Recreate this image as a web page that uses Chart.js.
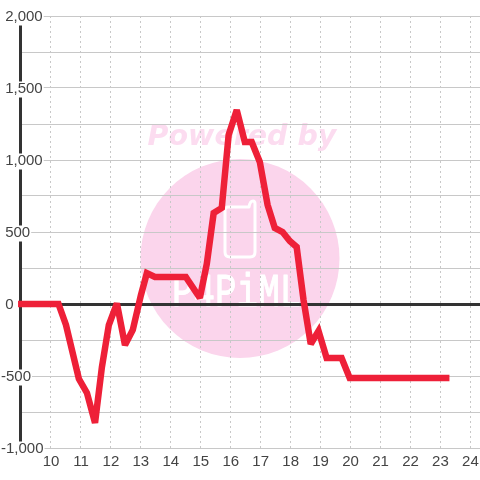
<!DOCTYPE html>
<html>
<head>
<meta charset="utf-8">
<script src="https://cdn.jsdelivr.net/npm/chart.js@4"></script>
<style>
html, body { margin: 0; padding: 0; background: #fff; }
#wrap { width: 480px; height: 480px; }
</style>
</head>
<body>
<div id="wrap"><canvas id="chart" width="480" height="480"></canvas></div>
<script>
const hours = [8.9, 10.25, 10.5, 10.93, 11.2, 11.47, 11.7, 11.93, 12.2, 12.47, 12.73, 13, 13.2, 13.47, 14.5, 14.97, 15.2, 15.43, 15.7, 15.93, 16.2, 16.47, 16.7, 16.97, 17.23, 17.47, 17.73, 17.97, 18.2, 18.43, 18.67, 18.93, 19.2, 19.7, 19.97, 23.3];
const values = [0, 0, -146, -520, -618, -825, -437, -146, 5, -285, -180, 60, 215, 188, 188, 42, 278, 632, 667, 1174, 1347, 1125, 1125, 986, 688, 528, 500, 438, 396, 28, -278, -187, -375, -375, -514, -514];
const xTicks = [10, 11, 12, 13, 14, 15, 16, 17, 18, 19, 20, 21, 22, 23, 24];
const yLabelled = [2000, 1500, 1000, 500, 0, -500, -1000];

const FONT = '"Liberation Sans", Arial, sans-serif';

// faint "Powered by" stamp, sits under the grid
const watermark = {
    id: 'watermark',
    beforeDraw(chart) {
        const ctx = chart.ctx;
        ctx.save();
        ctx.fillStyle = '#fff';
        ctx.fillRect(0, 0, 480, 480);

        ctx.fillStyle = '#fbd5ec';
        ctx.beginPath();
        ctx.arc(240, 258.5, 99.5, 0, Math.PI * 2);
        ctx.fill();

        ctx.fillStyle = '#fcdcf0';
        ctx.font = 'italic bold 28.5px "DejaVu Sans"';
        ctx.textAlign = 'center';
        ctx.textBaseline = 'alphabetic';
        ctx.fillText('Powered by', 242, 145);

        // phone outline
        ctx.strokeStyle = '#fff';
        ctx.lineWidth = 3;
        ctx.lineJoin = 'round';
        ctx.beginPath();
        ctx.moveTo(228, 207);
        ctx.lineTo(249, 207);
        ctx.quadraticCurveTo(250, 201, 253, 201);
        ctx.quadraticCurveTo(255, 201, 255, 204);
        ctx.lineTo(255, 252);
        ctx.quadraticCurveTo(255, 257, 250, 257);
        ctx.lineTo(230, 257);
        ctx.quadraticCurveTo(225, 257, 225, 252);
        ctx.lineTo(225, 210);
        ctx.quadraticCurveTo(225, 207, 228, 207);
        ctx.stroke();

        ctx.fillStyle = '#fff';
        ctx.strokeStyle = '#fff';
        ctx.lineWidth = 1;
        ctx.font = '46px "Liberation Mono"';
        ctx.textAlign = 'left';
        ctx.translate(172, 306);
        ctx.scale(0.78, 1);
        ctx.fillText('P4PiML', 0, 0);
        ctx.strokeText('P4PiML', 0, 0);
        ctx.restore();
    },
    // sharp peaks get cut flat instead of spiking
    beforeDatasetsDraw(chart) {
        chart.ctx.miterLimit = 2.5;
    }
};

new Chart(document.getElementById('chart').getContext('2d'), {
    type: 'line',
    data: {
        datasets: [{
            data: hours.map((h, i) => ({ x: h, y: values[i] })),
            borderColor: '#ee2038',
            borderWidth: 6.5,
            borderJoinStyle: 'miter',
            borderCapStyle: 'butt',
            pointRadius: 0,
            tension: 0,
            clip: false
        }]
    },
    plugins: [watermark],
    options: {
        responsive: false,
        animation: false,
        layout: { padding: { left: 20.5, top: 16, right: 0, bottom: 0 } },
        plugins: { legend: { display: false }, tooltip: { enabled: false } },
        scales: {
            x: {
                type: 'linear',
                min: 8.982,
                max: 24.32,
                afterBuildTicks(scale) {
                    scale.ticks = xTicks.map(v => ({ value: v }));
                },
                afterFit(scale) {
                    scale.height = 32;
                    scale.paddingRight = 0;
                    scale.paddingLeft = 0;
                },
                border: { display: false, dash: [2, 3] },
                grid: { color: '#c8c8c8', lineWidth: 1, drawTicks: false },
                ticks: {
                    autoSkip: false,
                    maxRotation: 0,
                    padding: 5,
                    color: '#444',
                    font: { family: FONT, size: 15 },
                    callback: v => String(v)
                }
            },
            y: {
                min: -1000,
                max: 2000,
                afterFit(scale) {
                    scale.width = 0;
                    scale.paddingTop = 0;
                    scale.paddingBottom = 0;
                },
                border: { display: true, color: '#333', width: 3 },
                grid: {
                    drawTicks: false,
                    color: ctx => ctx.tick && ctx.tick.value === 0 ? '#333' : '#c8c8c8',
                    lineWidth: ctx => ctx.tick && ctx.tick.value === 0 ? 3 : 1
                },
                ticks: {
                    stepSize: 250,
                    mirror: true,
                    padding: -19.5,
                    labelOffset: 1,
                    autoSkip: false,
                    color: '#444',
                    font: { family: FONT, size: 15, lineHeight: 1 },
                    showLabelBackdrop: true,
                    backdropColor: '#fff',
                    backdropPadding: { top: 0, bottom: 1, left: 0, right: 1 },
                    // negatives start further left, so pad the others by a space
                    callback(v) {
                        if (!yLabelled.includes(v)) return '';
                        const s = Math.abs(v).toLocaleString('en-US');
                        return v < 0 ? '-' + s : ' ' + s;
                    }
                }
            }
        }
    }
});
</script>
</body>
</html>
